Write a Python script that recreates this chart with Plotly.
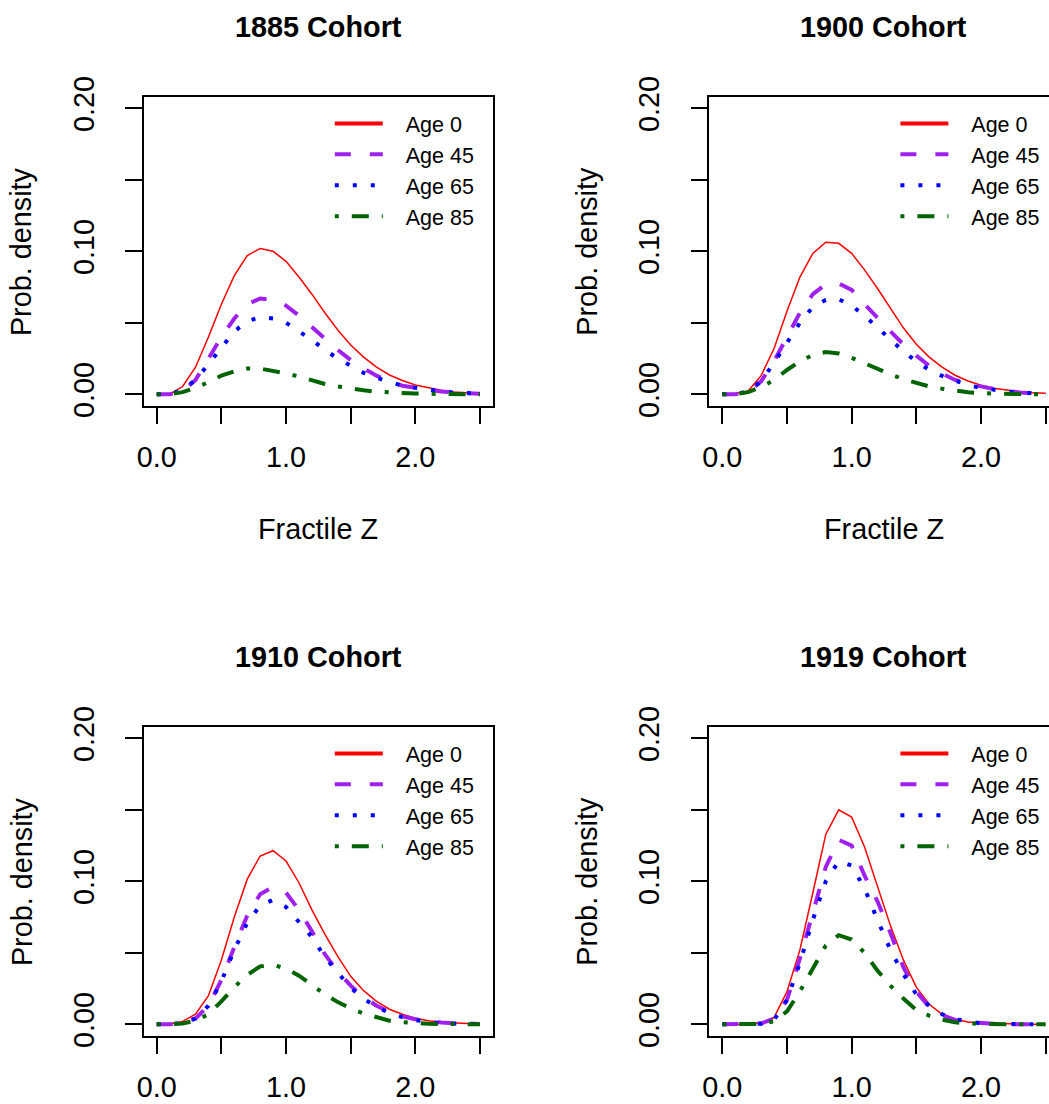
import plotly.graph_objects as go

# ---------------- data ----------------
fractile_z = [0.0, 0.1, 0.2, 0.3, 0.4, 0.5, 0.6, 0.7, 0.8, 0.9, 1.0, 1.1, 1.2,
              1.3, 1.4, 1.5, 1.6, 1.7, 1.8, 1.9, 2.0, 2.1, 2.2, 2.3, 2.4, 2.5]

cohorts = ["1885 Cohort", "1900 Cohort", "1910 Cohort", "1919 Cohort"]
age_labels = ["Age 0", "Age 45", "Age 65", "Age 85"]

c1885_age0 = [0, 0.0, 0.0054, 0.0189, 0.040, 0.063, 0.083, 0.097, 0.102, 0.100, 0.093, 0.082, 0.070,
              0.057, 0.045, 0.0345, 0.026, 0.019, 0.0135, 0.0096, 0.0065, 0.0044, 0.0028, 0.0016, 0.0009, 0.0005]
c1885_age45 = [0, 0.0, 0.002, 0.010, 0.025, 0.040, 0.053, 0.063, 0.067, 0.066, 0.062, 0.055, 0.047,
               0.039, 0.031, 0.024, 0.018, 0.013, 0.009, 0.006, 0.0045, 0.003, 0.002, 0.0012, 0.0007, 0.0004]
c1885_age65 = [0, 0.0, 0.003, 0.010, 0.021, 0.033, 0.044, 0.051, 0.054, 0.053, 0.050, 0.044, 0.038,
               0.031, 0.025, 0.020, 0.015, 0.0115, 0.0085, 0.006, 0.0045, 0.003, 0.002, 0.0012, 0.0007, 0.0004]
c1885_age85 = [0, 0.0001, 0.0015, 0.0045, 0.0085, 0.013, 0.016, 0.018, 0.018, 0.0165, 0.0145, 0.0125, 0.0095,
               0.0072, 0.0055, 0.004, 0.0028, 0.0018, 0.0012, 0.0008, 0.0005, 0.0003, 0.0002, 0.0001, 0.0001, 0.0]

c1900_age0 = [0, 0.0005, 0.0023, 0.013, 0.032, 0.058, 0.082, 0.0985, 0.1063, 0.1056, 0.0986, 0.087, 0.074,
              0.060, 0.0465, 0.035, 0.026, 0.019, 0.0133, 0.0093, 0.0063, 0.0042, 0.0028, 0.0018, 0.0011, 0.0007]
c1900_age45 = [0, 0.0, 0.0015, 0.009, 0.023, 0.040, 0.057, 0.070, 0.077, 0.0775, 0.073, 0.063, 0.053,
               0.044, 0.035, 0.027, 0.020, 0.0145, 0.010, 0.0075, 0.0055, 0.0037, 0.0023, 0.0013, 0.0008, 0.0005]
c1900_age65 = [0, 0.0, 0.002, 0.009, 0.022, 0.036, 0.050, 0.061, 0.066, 0.0665, 0.062, 0.055, 0.0465,
               0.038, 0.030, 0.023, 0.017, 0.0128, 0.0093, 0.0064, 0.0045, 0.003, 0.0019, 0.0012, 0.0007, 0.0004]
c1900_age85 = [0, 0.0001, 0.0015, 0.005, 0.010, 0.017, 0.023, 0.0275, 0.0295, 0.0285, 0.0255, 0.0215, 0.0175,
               0.014, 0.0105, 0.0078, 0.0055, 0.0039, 0.0025, 0.0014, 0.0008, 0.0004, 0.0002, 0.0001, 0.0, 0.0]

c1910_age0 = [0, 0.0002, 0.002, 0.007, 0.020, 0.045, 0.075, 0.1015, 0.1177, 0.1214, 0.1142, 0.099, 0.080,
              0.063, 0.0475, 0.0335, 0.0235, 0.016, 0.0105, 0.007, 0.0042, 0.0024, 0.0014, 0.0008, 0.0005, 0.0003]
c1910_age45 = [0, 0.0, 0.001, 0.004, 0.013, 0.031, 0.054, 0.076, 0.091, 0.096, 0.092, 0.080, 0.065,
               0.049, 0.037, 0.027, 0.019, 0.013, 0.0085, 0.0055, 0.0035, 0.002, 0.0012, 0.0007, 0.0004, 0.0002]
c1910_age65 = [0, 0.0, 0.0008, 0.004, 0.013, 0.030, 0.052, 0.071, 0.083, 0.087, 0.082, 0.072, 0.061,
               0.047, 0.036, 0.0255, 0.018, 0.012, 0.008, 0.005, 0.003, 0.0015, 0.0008, 0.0004, 0.0002, 0.0001]
c1910_age85 = [0, 0.0, 0.0005, 0.0025, 0.007, 0.016, 0.026, 0.0345, 0.0405, 0.0415, 0.039, 0.034, 0.0275,
               0.021, 0.0155, 0.011, 0.0075, 0.005, 0.0025, 0.0015, 0.0008, 0.0004, 0.0002, 0.0001, 0.0, 0.0]

c1919_age0 = [0, 0.0, 0.0, 0.001, 0.0047, 0.0228, 0.052, 0.092, 0.1328, 0.150, 0.145, 0.124, 0.096,
              0.069, 0.045, 0.026, 0.014, 0.007, 0.0035, 0.0016, 0.0008, 0.0004, 0.0002, 0.0001, 0.0, 0.0]
c1919_age45 = [0, 0.0, 0.0, 0.0005, 0.004, 0.017, 0.046, 0.077, 0.110, 0.129, 0.125, 0.104, 0.086,
               0.064, 0.040, 0.023, 0.012, 0.0065, 0.003, 0.0015, 0.0007, 0.0003, 0.0001, 0.0, 0.0, 0.0]
c1919_age65 = [0, 0.0, 0.0, 0.0003, 0.003, 0.017, 0.043, 0.073, 0.100, 0.114, 0.111, 0.095, 0.073,
               0.052, 0.035, 0.021, 0.013, 0.007, 0.0035, 0.0017, 0.0006, 0.0002, 0.0001, 0.0, 0.0, 0.0]
c1919_age85 = [0, 0.0, 0.0, 0.0003, 0.002, 0.009, 0.023, 0.039, 0.055, 0.0623, 0.0593, 0.050, 0.0375,
               0.027, 0.018, 0.010, 0.006, 0.0032, 0.0014, 0.0006, 0.0002, 0.0001, 0.0, 0.0, 0.0, 0.0]

panel_series = [
    [c1885_age0, c1885_age45, c1885_age65, c1885_age85],
    [c1900_age0, c1900_age45, c1900_age65, c1900_age85],
    [c1910_age0, c1910_age45, c1910_age65, c1910_age85],
    [c1919_age0, c1919_age45, c1919_age65, c1919_age85],
]

x_tick_vals = [0.0, 0.5, 1.0, 1.5, 2.0, 2.5]
x_tick_text = ["0.0", "", "1.0", "", "2.0", ""]
y_tick_vals = [0.0, 0.05, 0.10, 0.15, 0.20]
y_tick_text = ["0.00", "", "0.10", "", "0.20"]

# ---------------- styles ----------------
W, H = 1049, 1104
FONT = "Liberation Sans, Arial, Helvetica, sans-serif"
colors = ["#FF0000", "#A020F0", "#0000FF", "#006400"]
plot_widths = [1.5, 4, 4, 4]
legend_widths = [4, 4, 4, 4]
dashes = ["solid", "16px,19px", "4px,14px", "4px,13px,17px,13px"]

PX_PER_X = 129.3
box_left = [143.8, 709.4, 143.8, 709.4]
box_top = [96.9, 96.9, 726.9, 726.9]
box_bottom = [405.7, 405.7, 1035.7, 1035.7]
x_full_range = [-0.1, 2.6]

fig = go.Figure()

for p in range(4):
    n = "" if p == 0 else str(p + 1)
    for s in range(4):
        fig.add_trace(go.Scatter(
            x=fractile_z, y=panel_series[p][s], mode="lines",
            xaxis="x" + n, yaxis="y" + n, showlegend=False,
            line=dict(color=colors[s], width=plot_widths[s], dash=dashes[s]),
            hoverinfo="skip"))
        fig.add_trace(go.Scatter(
            x=[None], y=[None], mode="lines", name="\u00a0\u00a0\u00a0" + age_labels[s],
            xaxis="x" + n, yaxis="y" + n, legend="legend" + n,
            line=dict(color=colors[s], width=legend_widths[s], dash=dashes[s])))

layout = dict(width=W, height=H, margin=dict(l=0, r=0, t=0, b=0, autoexpand=False),
              paper_bgcolor="white", plot_bgcolor="white",
              font=dict(family=FONT, color="black"))
annotations = []
for p in range(4):
    n = "" if p == 0 else str(p + 1)
    L = box_left[p]
    full_R = L + PX_PER_X * (x_full_range[1] - x_full_range[0])
    R = min(W, full_R)
    xr = [x_full_range[0], x_full_range[0] + (R - L) / PX_PER_X]
    right_clipped = R < full_R - 0.5
    layout["xaxis" + n] = dict(
        domain=[L / W, R / W], range=xr, anchor="y" + n, automargin=False,
        showline=True, linecolor="black", linewidth=1.5, mirror=True,
        showgrid=False, zeroline=False,
        ticks="outside", ticklen=17, tickwidth=1.5, tickcolor="black",
        tickvals=x_tick_vals, ticktext=x_tick_text, ticklabelstandoff=8,
        tickfont=dict(size=28.8, family=FONT, color="black"))
    layout["yaxis" + n] = dict(
        domain=[1 - box_bottom[p] / H, 1 - box_top[p] / H], range=[-0.008, 0.208],
        anchor="x" + n, automargin=False,
        showline=True, linecolor="black", linewidth=1.5, mirror=not right_clipped,
        showgrid=False, zeroline=False,
        ticks="outside", ticklen=17, tickwidth=1.5, tickcolor="black",
        tickvals=y_tick_vals, ticktext=y_tick_text, tickangle=-90, ticklabelstandoff=20,
        tickfont=dict(size=28.8, family=FONT, color="black"))
    cx = (L + full_R) / 2
    # panel title
    annotations.append(dict(text="<b>" + cohorts[p] + "</b>", xref="paper", yref="paper",
                            x=cx / W, y=1 - (box_top[p] - 70) / H,
                            xanchor="center", yanchor="middle", showarrow=False,
                            font=dict(size=28.8, family=FONT, color="black")))
    # y axis title
    annotations.append(dict(text="Prob. density", xref="paper", yref="paper",
                            x=(L - 122) / W, y=1 - (box_top[p] + box_bottom[p]) / 2 / H,
                            xanchor="center", yanchor="middle", textangle=-90, showarrow=False,
                            font=dict(size=28.8, family=FONT, color="black")))
    # x axis title (only visible in the top row)
    if box_bottom[p] + 124 < H:
        annotations.append(dict(text="Fractile Z", xref="paper", yref="paper",
                                x=cx / W, y=1 - (box_bottom[p] + 123) / H,
                                xanchor="center", yanchor="middle", showarrow=False,
                                font=dict(size=28.8, family=FONT, color="black")))
    layout["legend" + n] = dict(
        x=(L + 186) / W, y=1 - (box_top[p] + 6) / H, xanchor="left", yanchor="top",
        bgcolor="rgba(0,0,0,0)", borderwidth=0, itemwidth=48,
        font=dict(size=21.5, family=FONT, color="black"),
        tracegroupgap=0, itemclick=False, itemdoubleclick=False)

layout["annotations"] = annotations
fig.update_layout(**layout)

fig.write_html("out.html", config={"displayModeBar": False},
               post_script="document.body.style.margin='0';document.body.style.overflow='hidden';")
